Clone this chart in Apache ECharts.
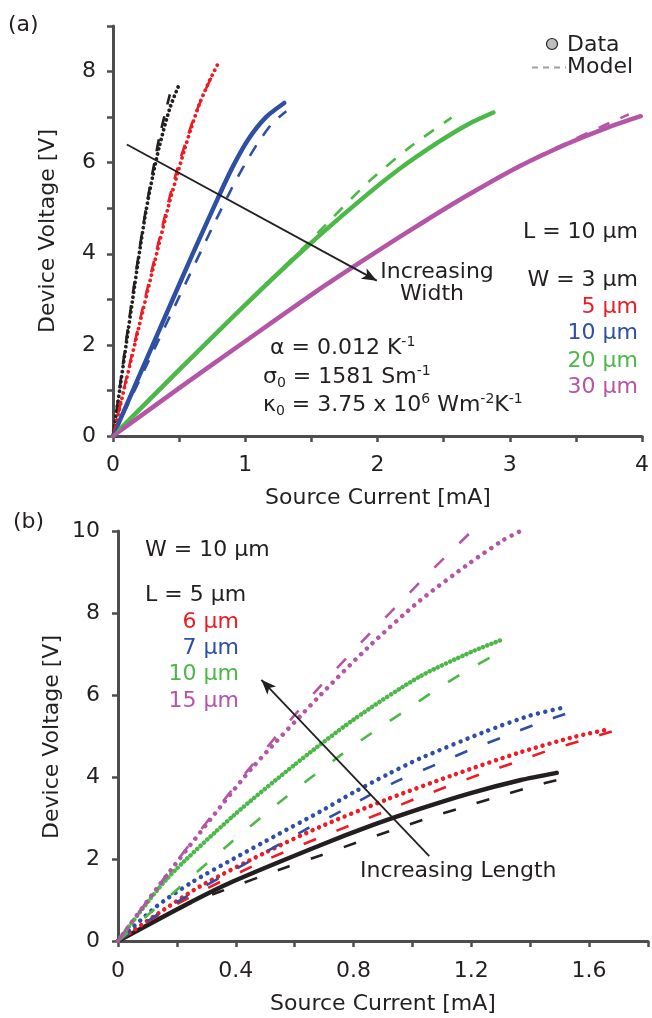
<!DOCTYPE html>
<html><head><meta charset="utf-8">
<script src="https://cdn.jsdelivr.net/npm/echarts@6/dist/echarts.min.js"></script>
<style>html,body{margin:0;padding:0;background:#fff;}#c{width:652px;height:1018px;}</style>
</head><body><div id="c"></div>
<script>
// ---------- Panel (a): L = 10 um, varying width. [current mA, voltage V]
const aW3Data  = [[0,0],[0.05,1.0],[0.1,2.02],[0.15,3.03],[0.2,4.03],[0.25,4.95],[0.3,5.7],[0.35,6.35],[0.43,7.2],[0.505,7.75]];
const aW3Model = [[0,0],[0.05,1.05],[0.1,2.1],[0.15,3.12],[0.2,4.1],[0.25,5.0],[0.3,5.8],[0.35,6.55],[0.43,7.5]];
const aW5Data  = [[0,0],[0.1,1.22],[0.2,2.44],[0.3,3.64],[0.42,5.05],[0.49,5.78],[0.54,6.28],[0.59,6.75],[0.655,7.3],[0.73,7.8],[0.806,8.24]];
const aW5Model = [[0,0],[0.1,1.25],[0.2,2.5],[0.3,3.72],[0.42,5.15],[0.49,5.9],[0.55,6.45],[0.62,7.05],[0.7,7.6],[0.78,8.1]];
const aW10Data  = [[0,0],[0.2,1.33],[0.4,2.66],[0.6,3.98],[0.79,5.2],[0.9,5.88],[1.02,6.5],[1.157,7.0],[1.295,7.31]];
const aW10Model = [[0,0],[0.25,1.53],[0.5,3.05],[0.75,4.57],[0.9,5.45],[1.0,5.98],[1.1,6.45],[1.2,6.85],[1.31,7.13]];
const aW20Data  = [[0,0],[0.5,1.45],[1.0,2.88],[1.445,4.1],[1.86,5.15],[2.16,5.85],[2.46,6.45],[2.69,6.85],[2.876,7.1]];
const aW20Model = [[0,0],[0.68,1.97],[1.445,4.15],[1.67,4.82],[1.94,5.6],[2.24,6.33],[2.56,6.99]];
const aW30Data  = [[0,0],[0.5,1.05],[1.0,2.08],[1.6,3.3],[2.0,4.06],[2.36,4.72],[2.69,5.3],[3.06,5.9],[3.44,6.42],[3.74,6.77],[3.99,7.02]];
const aW30Model = [[0,0],[1.0,2.08],[2.0,4.06],[2.69,5.31],[3.06,5.92],[3.44,6.45],[3.7,6.8],[3.9,7.06]];
const aArrow = [[0.105,6.4],[1.995,3.41]];
// ---------- Panel (b): W = 10 um, varying length
const bL5Data   = [[0,0],[0.221,0.85],[0.39,1.45],[0.685,2.33],[0.855,2.8],[1.025,3.22],[1.195,3.6],[1.365,3.92],[1.49,4.1]];
const bL5Model  = [[0,0],[0.2,0.78],[0.345,1.2],[0.572,1.8],[0.685,2.08],[0.81,2.4],[0.923,2.68],[1.037,2.96],[1.161,3.24],[1.275,3.49],[1.388,3.73],[1.524,3.99]];
const bL6Data   = [[0,0],[0.13,0.64],[0.278,1.33],[0.504,2.17],[0.685,2.78],[0.912,3.45],[1.139,4.05],[1.365,4.6],[1.55,4.98],[1.658,5.15]];
const bL6Model  = [[0,0],[0.2,0.9],[0.504,1.98],[0.788,2.82],[0.9,3.14],[1.014,3.48],[1.116,3.76],[1.24,4.09],[1.354,4.37],[1.467,4.66],[1.58,4.9],[1.694,5.15]];
const bL7Data   = [[0,0],[0.13,0.84],[0.255,1.45],[0.391,2.0],[0.538,2.58],[0.685,3.15],[0.799,3.62],[0.912,4.05],[1.025,4.45],[1.252,5.12],[1.4,5.5],[1.524,5.71]];
const bL7Model  = [[0,0],[0.2,0.95],[0.436,1.9],[0.635,2.71],[0.753,3.15],[0.855,3.56],[0.957,3.93],[1.082,4.31],[1.195,4.66],[1.31,4.98],[1.42,5.29],[1.552,5.62]];
const bL10Data  = [[0,0],[0.164,1.5],[0.391,3.05],[0.6,4.3],[0.8,5.4],[1.025,6.45],[1.2,7.05],[1.297,7.33]];
const bL10Model = [[0,0],[0.198,1.24],[0.38,2.38],[0.572,3.52],[0.765,4.58],[0.867,5.1],[0.97,5.59],[1.07,6.08],[1.17,6.53],[1.29,7.02]];
const bL15Data  = [[0,0],[0.142,1.38],[0.312,2.95],[0.459,4.25],[0.685,5.98],[0.855,7.2],[1.025,8.3],[1.195,9.22],[1.309,9.78],[1.362,9.98]];
const bL15Model = [[0,0],[0.2,1.95],[0.4,3.8],[0.55,5.1],[0.685,6.2],[0.776,6.9],[0.855,7.5],[0.944,8.15],[1.025,8.75],[1.116,9.4],[1.198,9.97]];
const bArrow = [[1.057,2.07],[0.487,6.37]];
// ---------- tick labels
const aXLabels = [0,1,2,3,4];
const aYLabels = [0,2,4,6,8];
const bXLabels = [0,0.4,0.8,1.2,1.6];
const bYLabels = [0,2,4,6,8,10];

const FONT = '"DejaVu Sans", "Liberation Sans", Arial, sans-serif';
const FS = 22;
const TXT = '#231f20';
const AX = '#4d4d4d';
const C = {black:'#231f20', red:'#ed1c24', blue:'#2e4fa3', green:'#4cb848', mag:'#b455a6'};

function labelFmt(list){
  return function(v){
    for (const t of list){ if (Math.abs(v - t) < 1e-6) return String(t); }
    return '';
  };
}
function axis(idx, max, interval, labels, margin){
  return {type:'value', gridIndex:idx, min:0, max:max, interval:interval,
    axisLine:{show:true, onZero:false, lineStyle:{color:AX, width:3}},
    axisTick:{show:true, length:6, lineStyle:{color:AX, width:2.5}},
    splitLine:{show:false},
    axisLabel:{formatter:labelFmt(labels), color:TXT, fontSize:FS, fontFamily:FONT, margin:margin, showMinLabel:true, showMaxLabel:true}};
}
function base(idx, data, z){
  return {type:'line', xAxisIndex:idx, yAxisIndex:idx, data:data, smooth:0.25,
    showSymbol:false, symbol:'none', silent:true, animation:false, z:z};
}
function dotted(idx, data, color, width, gap){
  const s = base(idx, data, 3);
  s.lineStyle = {color:color, width:width, type:[0.01, gap], cap:'round'};
  return s;
}
function solid(idx, data, color, width){
  const s = base(idx, data, 3);
  s.lineStyle = {color:color, width:width, type:'solid', cap:'round', join:'round'};
  return s;
}
function dashed(idx, data, color, width, pattern){
  const s = base(idx, data, 4);
  s.lineStyle = {color:color, width:width, type:pattern, cap:'butt'};
  return s;
}
function arrow(idx, pts){
  return {type:'line', xAxisIndex:idx, yAxisIndex:idx, data:[], silent:true, animation:false, z:6,
    markLine:{silent:true, animation:false, symbol:['none','arrow'], symbolSize:[9,15],
      label:{show:false}, lineStyle:{color:TXT, width:1.8, type:'solid'},
      data:[[{coord:pts[0]},{coord:pts[1]}]]}};
}

const dashA = [12,12];
const dashB = [13,22];

const series = [
  // panel (a)
  dotted(0, aW3Data, C.black, 3.8, 5),
  dotted(0, aW5Data, C.red, 3.8, 5.5),
  solid(0, aW10Data, C.blue, 4.5),
  solid(0, aW20Data, C.green, 4.5),
  solid(0, aW30Data, C.mag, 4.5),
  dashed(0, aW3Model, C.black, 2.6, dashA),
  dashed(0, aW5Model, C.red, 2.6, dashA),
  dashed(0, aW10Model, C.blue, 2.6, dashA),
  dashed(0, aW20Model, C.green, 2.6, dashA),
  dashed(0, aW30Model, C.mag, 2.6, dashA),
  arrow(0, aArrow),
  // panel (b)
  solid(1, bL5Data, C.black, 4.5),
  dotted(1, bL6Data, C.red, 4.5, 7),
  dotted(1, bL7Data, C.blue, 4.5, 7.5),
  dotted(1, bL10Data, C.green, 4.5, 4.5),
  dotted(1, bL15Data, C.mag, 4.5, 8),
  dashed(1, bL5Model, C.black, 2.6, dashB),
  dashed(1, bL6Model, C.red, 2.6, dashB),
  dashed(1, bL7Model, C.blue, 2.6, dashB),
  dashed(1, bL10Model, C.green, 2.6, dashB),
  dashed(1, bL15Model, C.mag, 2.6, dashB),
  arrow(1, bArrow)
];

function txt(text, x, y, opts){
  opts = opts || {};
  return {type:'text', x:x, y:y, rotation:opts.rotation || 0, silent:true, z:10,
    style:{text:text, fill:opts.color || TXT, fontSize:opts.size || FS, fontFamily:FONT,
      align:opts.align || 'left', verticalAlign:'middle', textAlign:opts.align || 'left', textVerticalAlign:'middle',
      rich:opts.rich}};
}
const richP = {
  m:{fontSize:FS, lineHeight:26, fontFamily:FONT, fill:TXT, verticalAlign:'middle'},
  sup:{fontSize:14, lineHeight:14, fontFamily:FONT, fill:TXT, verticalAlign:'top'},
  sub:{fontSize:14, lineHeight:14, fontFamily:FONT, fill:TXT, verticalAlign:'bottom'}
};

const graphic = [
  txt('(a)', 8, 25),
  txt('(b)', 13, 522),
  // legend
  {type:'circle', shape:{cx:552, cy:44, r:5.5}, style:{fill:'#bcbec0', stroke:TXT, lineWidth:1.2}, silent:true, z:10},
  txt('Data', 567, 45),
  {type:'line', shape:{x1:532, y1:67.5, x2:566, y2:67.5}, style:{stroke:'#9d9fa2', lineWidth:2, lineDash:[6,5]}, silent:true, z:10},
  txt('Model', 567, 67),
  // axis names
  txt('Device Voltage [V]', 48, 231, {rotation:Math.PI/2, align:'center'}),
  txt('Source Current [mA]', 378, 498, {align:'center'}),
  txt('Device Voltage [V]', 52, 737, {rotation:Math.PI/2, align:'center'}),
  txt('Source Current [mA]', 383, 1004, {align:'center'}),
  // panel (a) annotations
  txt('Increasing', 437, 272, {align:'center'}),
  txt('Width', 432, 294, {align:'center'}),
  txt('L = 10 µm', 638, 232, {align:'right'}),
  txt('W = 3 µm', 638, 280, {align:'right'}),
  txt('5 µm', 638, 307, {align:'right', color:C.red}),
  txt('10 µm', 638, 333, {align:'right', color:C.blue}),
  txt('20 µm', 638, 361, {align:'right', color:C.green}),
  txt('30 µm', 638, 387, {align:'right', color:C.mag}),
  txt('{m|α = 0.012 K}{sup|-1}', 270, 348, {rich:richP}),
  txt('{m|σ}{sub|0}{m| = 1581 Sm}{sup|-1}', 263, 377, {rich:richP}),
  txt('{m|κ}{sub|0}{m| = 3.75 x 10}{sup|6}{m| Wm}{sup|-2}{m|K}{sup|-1}', 263, 405, {rich:richP}),
  // panel (b) annotations
  txt('W = 10 µm', 145, 550),
  txt('L = 5 µm', 145, 595),
  txt('6 µm', 239, 622, {align:'right', color:C.red}),
  txt('7 µm', 239, 648, {align:'right', color:C.blue}),
  txt('10 µm', 239, 674, {align:'right', color:C.green}),
  txt('15 µm', 239, 701, {align:'right', color:C.mag}),
  txt('Increasing Length', 360, 871)
];

const chart = echarts.init(document.getElementById('c'), null, {renderer:'canvas'});
chart.setOption({
  animation:false,
  backgroundColor:'#ffffff',
  grid:[{left:113, top:26, width:531, height:410}, {left:118, top:531, width:530, height:410}],
  xAxis:[axis(0, 4, 0.5, aXLabels, 18), axis(1, 1.8, 0.2, bXLabels, 19)],
  yAxis:[axis(0, 9, 1, aYLabels, 17), axis(1, 10, 2, bYLabels, 18)],
  series:series,
  graphic:graphic
});
</script></body></html>
